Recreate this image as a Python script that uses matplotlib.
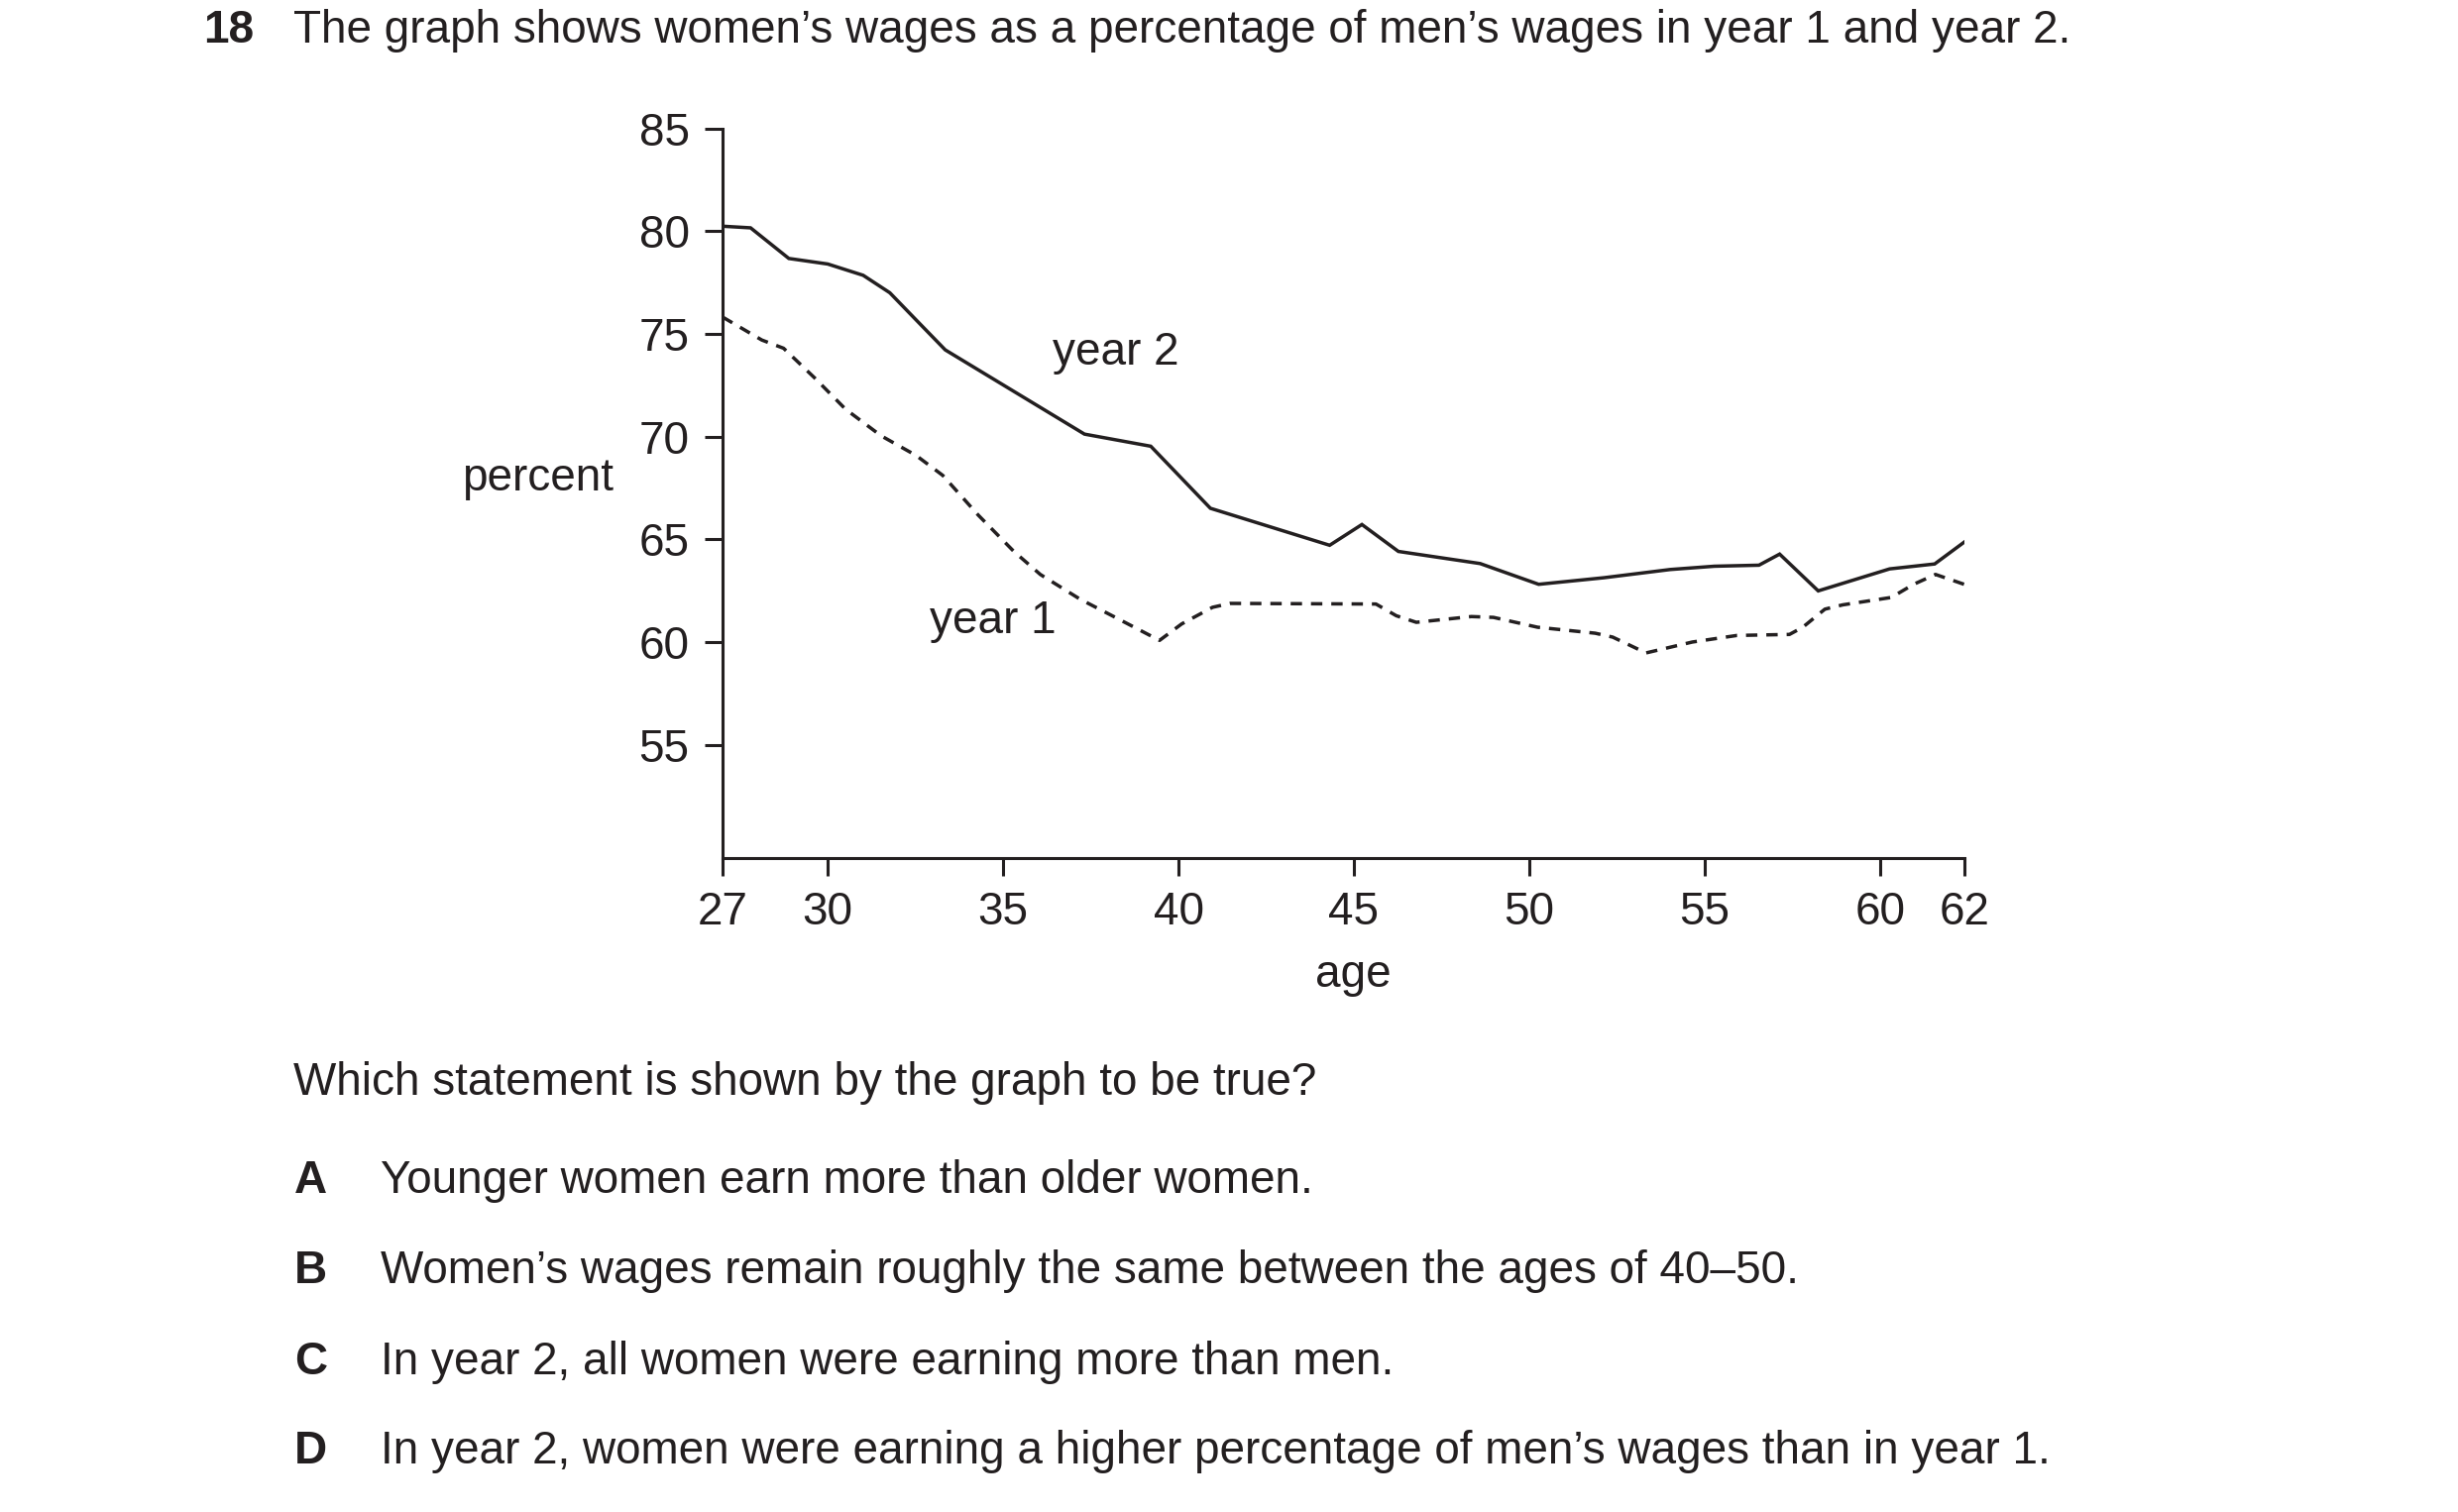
import matplotlib
matplotlib.use("Agg")
import matplotlib.pyplot as plt
import numpy as np

# ---- data ----
age_year2 = [27, 27.80, 28.89, 30.0, 31.01, 31.77, 32.53, 33.35, 37.32, 39.21, 40.91,
             44.31, 45.23, 46.27, 48.60, 50.27, 52.13, 54.02, 55.28, 56.55, 57.14, 58.24,
             60.23, 61.30, 62]
pct_year2 = [80.24, 80.16, 78.67, 78.40, 77.85, 77.0, 75.66, 74.22, 70.12, 69.53, 66.51,
             64.71, 65.72, 64.41, 63.82, 62.81, 63.13, 63.53, 63.69, 63.74, 64.28, 62.49,
             63.56, 63.80, 64.86]

age_year1 = [27, 28.12, 28.74, 29.63, 30.51, 31.52, 32.52, 33.28, 34.29, 35.30, 36.06,
             37.19, 38.20, 39.46, 40.09, 40.97, 41.47, 45.63, 46.21, 46.78, 48.35, 48.98,
             50.24, 51.88, 52.38, 53.33, 54.65, 55.92, 57.42, 57.80, 58.43, 58.94, 60.27,
             60.80, 61.32, 62.0]
pct_year1 = [75.82, 74.70, 74.30, 72.85, 71.33, 70.04, 69.08, 68.11, 66.18, 64.42, 63.29,
             62.09, 61.20, 60.08, 60.88, 61.69, 61.88, 61.85, 61.28, 60.96, 61.24, 61.2,
             60.72, 60.43, 60.24, 59.47, 60.0, 60.32, 60.37, 60.72, 61.6, 61.81, 62.17,
             62.81, 63.29, 62.81]

x_ticks = [27, 30, 35, 40, 45, 50, 55, 60, 62]
y_ticks = [55, 60, 65, 70, 75, 80, 85]

question_number = "18"
question = "The graph shows women\u2019s wages as a percentage of men\u2019s wages in year 1 and year 2."
prompt = "Which statement is shown by the graph to be true?"
option_letters = ["A", "B", "C", "D"]
option_texts = [
    "Younger women earn more than older women.",
    "Women\u2019s wages remain roughly the same between the ages of 40\u201350.",
    "In year 2, all women were earning more than men.",
    "In year 2, women were earning a higher percentage of men\u2019s wages than in year 1.",
]

# ---- style ----
INK = "#231f20"
FS = 33
plt.rcParams["font.family"] = ["Liberation Sans", "DejaVu Sans"]

W, H = 2480, 1526
fig = plt.figure(figsize=(W / 100, H / 100), dpi=100)

def fx(px):
    return px / W

def fy(py):
    return 1 - py / H

# the drawn age axis is slightly stretched between 60 and 62
STRETCH = 1.2

def fwd(x):
    x = np.asarray(x, dtype=float)
    return np.where(x <= 60, x, 60 + (x - 60) * STRETCH)

def inv(x):
    x = np.asarray(x, dtype=float)
    return np.where(x <= 60, x, 60 + (x - 60) / STRETCH)

left, right, top, bottom = 729, 1981.7, 129.6, 865.7
ax = fig.add_axes([fx(left), fy(bottom), fx(right) - fx(left), (bottom - top) / H])
ax.set_xscale("function", functions=(fwd, inv))

ax.plot(age_year2, pct_year2, color=INK, lw=2.5, solid_joinstyle="miter")
ax.plot(age_year1, pct_year1, color=INK, lw=2.5, linestyle=(0, (3.3, 2.6)),
        dash_capstyle="butt")

ax.set_xlim(27, 62)
ax.set_ylim(49.5, 85)
ax.set_xticks(x_ticks)
ax.set_yticks(y_ticks)
ax.set_xticklabels([str(t) for t in x_ticks])
ax.set_yticklabels([str(t) for t in y_ticks])
ax.xaxis.set_minor_locator(matplotlib.ticker.NullLocator())
for s in ["top", "right"]:
    ax.spines[s].set_visible(False)
for s in ["left", "bottom"]:
    ax.spines[s].set_linewidth(2.2)
    ax.spines[s].set_color(INK)
ax.tick_params(direction="out", length=13, width=2.2, pad=11, labelsize=FS,
               colors=INK)

ax.text(36.42, 73.48, "year 2", fontsize=FS, color=INK, ha="left", va="baseline")
ax.text(32.92, 60.44, "year 1", fontsize=FS, color=INK, ha="left", va="baseline")

fig.text(fx(466.5), fy(495), "percent", fontsize=FS, color=INK, ha="left", va="baseline")
fig.text(fx(1365), fy(996), "age", fontsize=FS, color=INK, ha="center", va="baseline")

fig.text(fx(205.6), fy(42.7), question_number, fontsize=FS, color=INK,
         fontweight="bold", ha="left", va="baseline")
fig.text(fx(295.7), fy(42.7), question, fontsize=FS, color=INK, ha="left", va="baseline")

fig.text(fx(295.7), fy(1105), prompt, fontsize=FS, color=INK, ha="left", va="baseline")
baselines = [1203.5, 1295, 1387, 1477]
for letter, txt, b in zip(option_letters, option_texts, baselines):
    fig.text(fx(297), fy(b), letter, fontsize=FS, color=INK, fontweight="bold",
             ha="left", va="baseline")
    fig.text(fx(384), fy(b), txt, fontsize=FS, color=INK, ha="left", va="baseline")

fig.savefig("out.png", dpi=100, facecolor="white")
